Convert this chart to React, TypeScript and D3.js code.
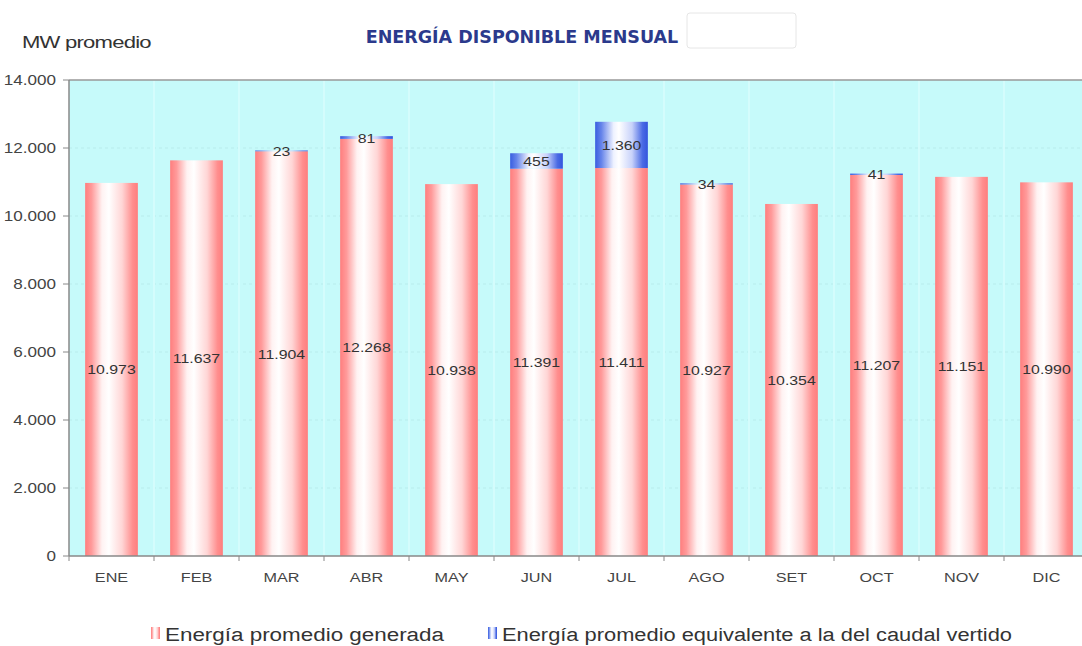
import React from "react";
import * as d3 from "d3";

const months = ["ENE", "FEB", "MAR", "ABR", "MAY", "JUN", "JUL", "AGO", "SET", "OCT", "NOV", "DIC"];
const generada = [10973, 11637, 11904, 12268, 10938, 11391, 11411, 10927, 10354, 11207, 11151, 10990];
const vertido = [0, 0, 23, 81, 0, 455, 1360, 34, 0, 41, 0, 0];
const yTicks = [0, 2000, 4000, 6000, 8000, 10000, 12000, 14000];
const legendLabels = ["Energía promedio generada", "Energía promedio equivalente a la del caudal vertido"];

const W = 1082, H = 646;
const left = 69, top = 80, bottom = 556, right = 1089;
const SX = 1.22;

const fmt = (v: number) => String(v).replace(/\B(?=(\d{3})+(?!\d))/g, ".");
const font = "'Liberation Sans', Arial, sans-serif";

function T(props: { x: number; y: number; size: number; anchor?: string; fill?: string; sx?: number; children: any; ls?: number }) {
  const sx = props.sx ?? SX;
  return (
    <text
      transform={`translate(${props.x},${props.y}) scale(${sx},1)`}
      textAnchor={props.anchor ?? "start"}
      fontFamily={font}
      fontSize={props.size}
      fill={props.fill ?? "#333"}
      letterSpacing={props.ls}
    >
      {props.children}
    </text>
  );
}

export default function App() {
  const x = d3.scaleBand<string>().domain(months).range([left, right]).paddingInner(0.38).paddingOuter(0.19);
  const xb = d3.scaleBand<string>().domain(months).range([left, right]);
  const y = d3.scaleLinear().domain([0, 14000]).range([bottom, top]);
  return (
    <svg width={W} height={H} style={{ position: "absolute", left: 0, top: 0, background: "#fff" }}>
      <defs>
        <linearGradient id="gPink" x1="0" x2="1" y1="0" y2="0">
          <stop offset="0" stopColor="#ff7e7e" />
          <stop offset="0.12" stopColor="#ff9a9a" />
          <stop offset="0.32" stopColor="#fff2f2" />
          <stop offset="0.45" stopColor="#ffffff" />
          <stop offset="0.7" stopColor="#ffd6d6" />
          <stop offset="0.9" stopColor="#ff8e8e" />
          <stop offset="1" stopColor="#ff7d7d" />
        </linearGradient>
        <linearGradient id="gBlue" x1="0" x2="1" y1="0" y2="0">
          <stop offset="0" stopColor="#3a5ee0" />
          <stop offset="0.12" stopColor="#6684ea" />
          <stop offset="0.35" stopColor="#eef2ff" />
          <stop offset="0.45" stopColor="#ffffff" />
          <stop offset="0.7" stopColor="#c8d2fa" />
          <stop offset="0.9" stopColor="#4a6ae4" />
          <stop offset="1" stopColor="#3355dd" />
        </linearGradient>
      </defs>
      <T x={22} y={48} size={17} fill="#333" sx={1.3} ls={-0.6}>MW promedio</T>
      <text x={522} y={43} textAnchor="middle" fontFamily="'DejaVu Sans', Verdana, sans-serif" fontWeight="bold" fontSize={17.5} fill="#2b3a8c">ENERGÍA DISPONIBLE MENSUAL</text>
      <rect x={687} y={13} width={109} height={35} rx={3} fill="#fff" stroke="#e6e6e6" strokeWidth={1} />
      <rect x={left} y={top} width={right - left} height={bottom - top} fill="#c6fafa" />
      {yTicks.slice(1, -1).map(t => (
        <line key={t} x1={left} x2={right} y1={y(t)} y2={y(t)} stroke="#b8ecec" strokeWidth={1} strokeDasharray="3,3" />
      ))}
      {months.slice(1).map(m => (
        <line key={m} x1={xb(m)!} x2={xb(m)!} y1={top} y2={bottom} stroke="#d4fcfc" strokeWidth={2} />
      ))}
      <line x1={left} x2={right} y1={top} y2={top} stroke="#999" strokeWidth={1.5} />
      {months.map((m, i) => {
        const bx = x(m)!;
        const bw = x.bandwidth();
        const g = generada[i];
        const v = vertido[i];
        return (
          <g key={m}>
            <rect x={bx} y={y(g)} width={bw} height={y(0) - y(g)} fill="url(#gPink)" />
            {v > 0 && <rect x={bx} y={y(g + v)} width={bw} height={y(g) - y(g + v)} fill="url(#gBlue)" />}
            <T x={bx + bw / 2} y={y(g / 2) + 5} size={13} anchor="middle">{fmt(g)}</T>
            {v > 0 && (
              <T x={bx + bw / 2} y={(y(g) + y(g + v)) / 2 + 5} size={13} anchor="middle">{fmt(v)}</T>
            )}
          </g>
        );
      })}
      <line x1={left} x2={left} y1={top} y2={bottom} stroke="#888" strokeWidth={1.5} />
      <line x1={left} x2={right} y1={bottom} y2={bottom} stroke="#888" strokeWidth={1.5} />
      {yTicks.map(t => (
        <g key={t}>
          <line x1={left - 6} x2={left} y1={y(t)} y2={y(t)} stroke="#888" strokeWidth={1} />
          <T x={left - 13} y={y(t) + 5} size={14} anchor="end" fill="#444">{fmt(t)}</T>
        </g>
      ))}
      {months.map(m => (
        <g key={m}>
          <line x1={xb(m)!} x2={xb(m)!} y1={bottom} y2={bottom + 5} stroke="#888" strokeWidth={1} />
          <T x={xb(m)! + xb.bandwidth() / 2} y={582} size={13.5} anchor="middle" fill="#444" sx={1.2}>{m}</T>
        </g>
      ))}
      <g>
        <rect x={151} y={627} width={9} height={12} fill="url(#gPink)" />
        <T x={165} y={641} size={19} fill="#333" sx={1.18}>{legendLabels[0]}</T>
        <rect x={488} y={627} width={9} height={12} fill="url(#gBlue)" />
        <T x={502} y={641} size={19} fill="#333" sx={1.15}>{legendLabels[1]}</T>
      </g>
    </svg>
  );
}
